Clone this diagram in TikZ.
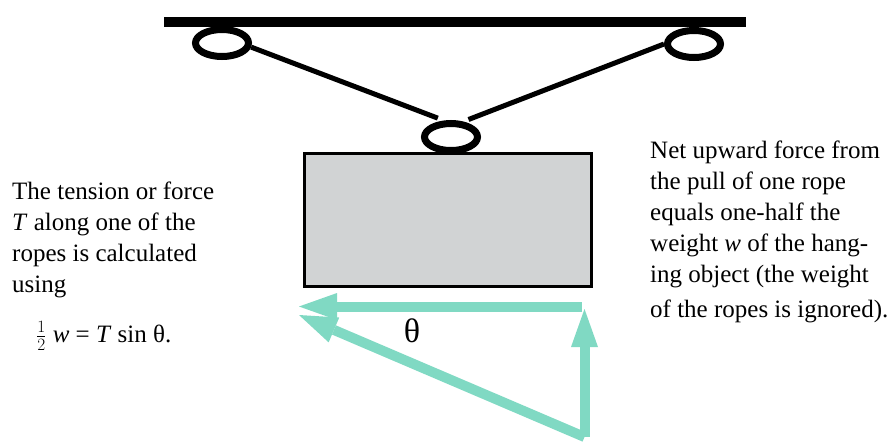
\documentclass[tikz,border=0pt]{standalone}
\usepackage{fontspec}
\setmainfont{Liberation Serif}
\usetikzlibrary{shapes.geometric,arrows.meta}
\definecolor{mint}{HTML}{80D9C3}
\definecolor{boxgray}{HTML}{D1D3D4}
\tikzstyle{ring}=[ellipse, draw, line width=7pt, minimum width=53pt, minimum height=27pt, inner sep=0pt]
\tikzstyle{load}=[rectangle, draw, fill=boxgray, line width=3pt, minimum width=287pt, minimum height=133pt]
\tikzstyle{rope}=[line width=5pt]
\tikzstyle{vector}=[draw=mint, line width=10pt, -{Triangle[length=38pt, width=27pt, line width=0pt]}]
\tikzstyle{note}=[inner sep=0pt, align=left, font=\fontsize{25}{31}\selectfont]

\begin{document}
\begin{tikzpicture}[x=1pt, y=-1pt]
    \useasboundingbox (0,0) rectangle (892,445);
    % ceiling, rings and ropes
    \draw[line width=10pt] (164,22) -- (746,22);
    \node[ring] (ringL) at (222,43) {};
    \node[ring] (ringR) at (694,44) {};
    \node[ring, outer sep=7pt] (ringB) at (451,137) {};
    \node[load] (weight) at (448,220) {};
    \draw[rope]
        (ringL.-8) -- (ringB.125)
        (ringB.45) -- (ringR.180)
    ;
    % force vectors
    \coordinate (hstart) at (582,306.5);
    \coordinate (htip) at (299,306.5);
    \coordinate (base) at (584.5,437);
    \coordinate (vtip) at (584.5,309);
    \coordinate (dtip) at (299,315);
    \draw[vector] (hstart) -- (htip);
    \draw[vector] (base) -- (dtip);
    \draw[vector] (base) -- (vtip);
    \node[font=\fontsize{34}{40}\selectfont] (angle) at (412,331) {θ};
    % texts
    \node[note, anchor=north west] (tension) at (12,182)
        {The tension or force\\\textit{T} along one of the\\ropes is calculated\\using};
    \node[note, anchor=base west] (formula) at (36,342)
        {$\frac{1}{2}$ \textit{w} = \textit{T} sin θ.};
    \node[note, anchor=north west] (netforce) at (650,141)
        {Net upward force from\\the pull of one rope\\equals one-half the\\weight \textit{w} of the hang-\\ing object (the weight\\[4pt]of the ropes is ignored).};
\end{tikzpicture}
\end{document}
